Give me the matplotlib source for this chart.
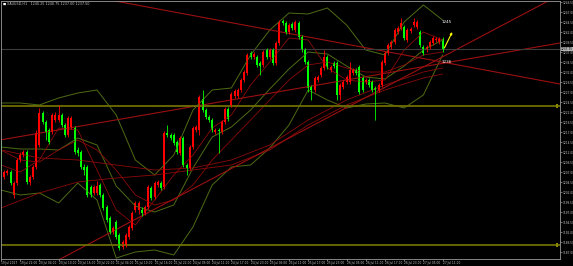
import numpy as np
import matplotlib
matplotlib.use("Agg")
import matplotlib.pyplot as plt

# ---- candle data (H1), oldest first ----
opens = [1214.25, 1205.75, 1206.75, 1207, 1201.25, 1204.25, 1210, 1211.25, 1212, 1204.5,
         1205.75, 1208.25, 1213.75, 1221.75, 1219.5, 1217.5, 1217, 1220, 1220, 1221.25,
         1218.75, 1216.25, 1218.25, 1218, 1212.5, 1212, 1208.25, 1208.25, 1203.25, 1201.75,
         1201.75, 1203.75, 1201.25, 1198.25, 1195.5, 1192, 1194.5, 1191.25, 1188.25, 1188.75,
         1190.75, 1193, 1197.5, 1197.5, 1197.5, 1196.75, 1198.25, 1203, 1200.75, 1203.75,
         1204.25, 1203.25, 1216.75, 1216.25, 1216.25, 1214.5, 1211.75, 1215.5, 1208.75, 1208,
         1213.25, 1217.5, 1217.5, 1225.25, 1222.5, 1220.75, 1220, 1217, 1217.5, 1217,
         1219.5, 1222.75, 1223.75, 1226, 1226, 1227.5, 1230, 1231.75, 1236.75, 1235.75,
         1235.75, 1234.25, 1233.75, 1237.5, 1235.75, 1237.5, 1234.25, 1239.25, 1244.75, 1244.25,
         1242, 1244, 1242.5, 1244.25, 1240.75, 1237.5, 1234.5, 1228.25, 1227.5, 1230,
         1231.25, 1233, 1235.75, 1232.5, 1234.25, 1234.25, 1226.25, 1228.25, 1229.5, 1229.5,
         1231.75, 1232.5, 1233.25, 1230.5, 1229.5, 1230, 1229.5, 1228, 1227.5, 1228.75,
         1234.25, 1236.75, 1238.25, 1239.5, 1242, 1243, 1243.25, 1240, 1242.25, 1243.75,
         1243.25, 1242, 1238.25, 1237.5, 1238.25, 1239.25, 1240, 1239.5, 1240.25]
closes = [1208.25, 1207, 1207.25, 1204.25, 1204.25, 1210, 1211.25, 1212, 1204.5, 1205.75,
          1208.25, 1216.75, 1221.75, 1219.5, 1217, 1214.5, 1221.25, 1221.25, 1221.25, 1218.75,
          1216.25, 1220.5, 1220.5, 1212, 1211.75, 1208.25, 1207.5, 1201.25, 1201.25, 1203.25,
          1203.5, 1201.25, 1198, 1195, 1192, 1193, 1190.75, 1188, 1189.5, 1191.25,
          1193.25, 1196.75, 1199.25, 1199.25, 1196.75, 1198.25, 1203.25, 1200.5, 1204.25, 1204.5,
          1203, 1216.75, 1216.25, 1215.5, 1214.25, 1212, 1215.5, 1208.75, 1208, 1213.25,
          1218, 1218.25, 1225.75, 1222.5, 1220.75, 1220, 1217.5, 1217.5, 1217.25, 1219.5,
          1222.75, 1220.25, 1226.5, 1227.25, 1227.5, 1230, 1232, 1236.25, 1235.75, 1236.5,
          1233.75, 1233.5, 1237, 1235.75, 1237.5, 1234.25, 1239.25, 1244.5, 1244.25, 1242,
          1243.75, 1243, 1244.5, 1240.75, 1237.5, 1234.5, 1228, 1227.5, 1230.5, 1230.75,
          1233, 1235.75, 1233.25, 1233.25, 1233.5, 1226.25, 1228.75, 1229.5, 1230.75, 1232.5,
          1232.5, 1231.75, 1227, 1227.5, 1230, 1228.75, 1227.5, 1227.5, 1228.75, 1234.5,
          1236.75, 1238.75, 1239.5, 1242.5, 1243, 1244.25, 1240.5, 1242.5, 1242.75, 1244.5,
          1244.5, 1238.75, 1236.75, 1238.25, 1239.5, 1240.5, 1240.25, 1240.25, 1237.5]
highs = [1215, 1207.5, 1207.75, 1207.5, 1204.75, 1210.5, 1212, 1212.5, 1212.5, 1206.25,
         1208.75, 1217.5, 1223, 1222.25, 1220, 1218, 1221.75, 1222, 1223.75, 1221.75,
         1219.25, 1221, 1221, 1218.5, 1213.25, 1212.5, 1209, 1208.75, 1203.75, 1203.75,
         1204.75, 1204.25, 1201.75, 1198.75, 1196, 1193.5, 1195, 1191.75, 1190, 1191.75,
         1193.75, 1197.25, 1199.75, 1199.75, 1198.25, 1198.75, 1203.75, 1203.5, 1204.75, 1205,
         1204.75, 1217.25, 1218.75, 1216.75, 1216.75, 1215, 1216, 1216, 1209.25, 1213.75,
         1218.5, 1218.75, 1226.25, 1227.5, 1223, 1221.25, 1220.5, 1218, 1218, 1220,
         1223.25, 1223.25, 1227, 1227.75, 1228, 1230.5, 1232.5, 1236.75, 1237.25, 1237,
         1236.25, 1234.75, 1237.5, 1238, 1238, 1238, 1239.75, 1245, 1245.25, 1244.75,
         1244.25, 1244.5, 1245, 1244.75, 1241.25, 1238, 1235, 1228.75, 1231, 1231.25,
         1233.5, 1237.5, 1236.25, 1233.75, 1234.75, 1234.75, 1229.25, 1230, 1231.25, 1234.5,
         1233, 1233, 1233.75, 1231, 1230.5, 1230.5, 1230, 1228.5, 1229.25, 1235,
         1237.25, 1239.25, 1240, 1243, 1243.5, 1245.5, 1243.75, 1243, 1243.25, 1245.5,
         1245, 1242.5, 1238.75, 1238.75, 1240, 1241, 1240.75, 1240.75, 1240.75]
lows = [1207.5, 1205.25, 1206.25, 1203.75, 1200.5, 1203.75, 1209.5, 1210.75, 1204, 1203.75,
        1205.25, 1207.75, 1213.25, 1219, 1215, 1214, 1216.5, 1219.5, 1219.5, 1218.25,
        1215.75, 1215.75, 1217.75, 1211.5, 1211, 1207.75, 1206.25, 1200.75, 1200.75, 1201.25,
        1201.25, 1200.75, 1197.5, 1194.5, 1191.5, 1191.5, 1190.25, 1187.5, 1187.75, 1188.25,
        1190.25, 1192.5, 1197, 1196.5, 1196, 1196.25, 1197.75, 1200, 1200.25, 1203.25,
        1202.5, 1202.75, 1215.75, 1215, 1213.75, 1211.5, 1211.25, 1208.25, 1206.25, 1207.5,
        1212.75, 1217, 1216.25, 1222, 1220.25, 1219.5, 1217, 1216.5, 1211.75, 1216.5,
        1219, 1219.75, 1223.25, 1225.5, 1225.5, 1227, 1229.5, 1231.25, 1235.25, 1235.25,
        1233.25, 1231.25, 1233.25, 1235.25, 1235.25, 1233.75, 1233.75, 1238.75, 1243.75, 1241.5,
        1241.5, 1242.5, 1242, 1240.25, 1237, 1234, 1227, 1225, 1227, 1229.5,
        1230.75, 1232.5, 1232.75, 1232, 1233, 1225, 1225, 1227.75, 1229, 1229,
        1231.25, 1231.25, 1226.5, 1227, 1229, 1228.25, 1227, 1220, 1227, 1228.25,
        1233.75, 1236.25, 1237.75, 1239, 1241.5, 1242.5, 1240, 1239.5, 1241.75, 1243.25,
        1242.75, 1238.25, 1236.25, 1237, 1237.75, 1238.75, 1239.5, 1239, 1237]

# ---- indicators, sampled at candle indices ----
band_idx = [0, 6, 12, 18, 24, 30, 36, 42, 48, 54, 60, 66, 72, 78, 84, 90, 96, 102, 108, 114, 120, 126, 132, 138]
bb_upper = [1224.25, 1224.25, 1223.75, 1225.5, 1226.75, 1227.5, 1221.25, 1210, 1206.25, 1211.25, 1222.5, 1227.5,
            1228, 1236.25, 1242.5, 1246.75, 1246.5, 1248, 1243.75, 1237.5, 1236.25, 1244.5, 1248.75, 1245]
bb_middle = [1213.25, 1212.75, 1212.75, 1212.5, 1215.5, 1213.75, 1203.5, 1198.5, 1197, 1198.75, 1208, 1215.75,
             1218.25, 1222.5, 1227.75, 1232.75, 1237, 1236.5, 1233.5, 1230.75, 1230.25, 1233.5, 1237.5, 1240]
bb_lower = [1202.5, 1201.25, 1201.75, 1199.25, 1204.25, 1200, 1185.5, 1187, 1187.5, 1186.25, 1193.25, 1203.75,
            1208.25, 1208.75, 1213, 1218.75, 1227.5, 1225, 1223, 1224, 1224.25, 1223, 1226.25, 1236.25]
ma_fast = [1208.75, 1207, 1210, 1218, 1217.5, 1207.5, 1197.5, 1193.75, 1200, 1206.25, 1211.25, 1218,
           1221.25, 1228.75, 1234.5, 1240.5, 1240, 1233, 1230, 1229.5, 1230, 1237.5, 1242, 1240]
ma_mid = [1212.5, 1210, 1209.5, 1212.5, 1215, 1212.5, 1207.5, 1201.25, 1198.75, 1200, 1203.75, 1210,
          1215, 1220, 1225, 1230, 1233.75, 1234.5, 1233, 1232, 1232, 1233.75, 1236.25, 1237]
slow_idx = [0, 12, 24, 36, 48, 60, 72, 84, 96, 108, 120, 132, 138]
ma_slow = [1212.5, 1210.5, 1210, 1208.75, 1207.5, 1208, 1210, 1213.75, 1220, 1225, 1228.75, 1232, 1233]
ma_slow2 = [1198, 1201.75, 1204.5, 1205.5, 1206.25, 1207.5, 1208.75, 1212.5, 1218.75, 1223.75, 1227.5, 1230.5, 1231.5]

# trend lines: (index, price) end points
trend_down = [(34, 1250), (174.7, 1229)]
trend_up = [(14.4, 1183.5), (171.6, 1250)]
trend_flat = [(-0.3, 1215), (174.7, 1239.25)]

levels = [1223.5, 1188.75]
current = 1237.75
target_hi, target_lo = "1245", "1236"

xlabels = ["19 Jul 2017", "19 Jul 22:00", "20 Jul 04:00", "20 Jul 10:00", "20 Jul 16:00", "20 Jul 22:00",
           "21 Jul 04:00", "21 Jul 10:00", "21 Jul 16:00", "21 Jul 22:00", "24 Jul 05:00", "24 Jul 11:00",
           "24 Jul 17:00", "24 Jul 23:00", "25 Jul 05:00", "25 Jul 11:00", "25 Jul 17:00", "25 Jul 23:00",
           "26 Jul 05:00", "26 Jul 11:00", "26 Jul 17:00", "26 Jul 23:00", "27 Jul 05:00", "27 Jul 11:00"]

opens = np.array(opens)
closes = np.array(closes)
n = len(opens)
idx = np.arange(n)
up = closes >= opens

fig = plt.figure(figsize=(5.73, 2.66), dpi=100, facecolor="black")
ax = fig.add_axes([1 / 573, 7 / 266, 559 / 573, 258 / 266])
ax.set_facecolor("black")

olive = "#4f6b14"
dred = "#8c0a0a"
ax.plot(band_idx, bb_upper, color=olive, lw=0.7)
ax.plot(band_idx, bb_middle, color=olive, lw=0.7)
ax.plot(band_idx, bb_lower, color=olive, lw=0.7)
ax.plot(band_idx, ma_fast, color=dred, lw=0.6)
ax.plot(band_idx, ma_mid, color=dred, lw=0.6)
ax.plot(slow_idx, ma_slow, color=dred, lw=0.6)
ax.plot(slow_idx, ma_slow2, color=dred, lw=0.6)
for tl in (trend_down, trend_up, trend_flat):
    ax.plot([tl[0][0], tl[1][0]], [tl[0][1], tl[1][1]], color="#9a1010", lw=0.8)

for lv in levels:
    ax.axhline(lv, color="#6e6e00", lw=1.3)
ax.axhline(current, color="#3c3c3c", lw=0.8)

# candles
cols = np.where(up, "#ff0000", "#00ff00")
ax.vlines(idx, lows, highs, colors=cols, lw=0.6)
body = np.maximum(np.abs(closes - opens), 0.2)
ax.bar(idx, body, bottom=np.minimum(opens, closes), width=0.62, color=cols, linewidth=0)

# arrow + target texts
ax.annotate("", xy=(141.4, 1242.6), xytext=(138.2, 1237.4),
            arrowprops=dict(arrowstyle="-|>", color="#ffff00", lw=0.8, mutation_scale=3))
ax.text(137.6, 1244.6, target_hi, color="white", fontsize=3, va="center")
ax.text(137.6, 1234.6, target_lo, color="white", fontsize=3, va="center")

ax.set_xlim(0, 174.7)
ax.set_ylim(1185.25, 1249.75)

ax.yaxis.tick_right()
yt = np.arange(1187, 1250, 2.5)
ax.set_yticks(yt)
ax.set_yticklabels(["%.2f" % v for v in yt])
ax.set_xticks(band_idx)
ax.set_xticklabels(xlabels)
for lab in ax.get_xticklabels():
    lab.set_ha("left")
ax.tick_params(colors="#c8c8c8", labelsize=2.1, length=1.2, width=0.4, pad=0.5)
for s in ax.spines.values():
    s.set_color("#9a9a9a")
    s.set_linewidth(0.6)

# price boxes on the right
ax.text(1.002, current, "%.2f" % current, transform=ax.get_yaxis_transform(), fontsize=2.1,
        color="black", va="center", ha="left",
        bbox=dict(boxstyle="square,pad=0.12", fc="#b4b4b4", ec="none"))
for lv in levels:
    ax.text(174.0, lv, "  ", fontsize=2.1, va="center", ha="right",
            bbox=dict(boxstyle="square,pad=0.1", fc="#8a8a00", ec="none"))

# header
fig.text(3 / 573, 1 - 4 / 266, "\u25a0", color="white", fontsize=2.4, va="center")
fig.text(7 / 573, 1 - 4 / 266, "XAUUSD,H1   1240.25 1240.75 1237.00 1237.50",
         color="#c0c0c0", fontsize=2.4, va="center")

fig.savefig("out.png", dpi=100, facecolor="black")
